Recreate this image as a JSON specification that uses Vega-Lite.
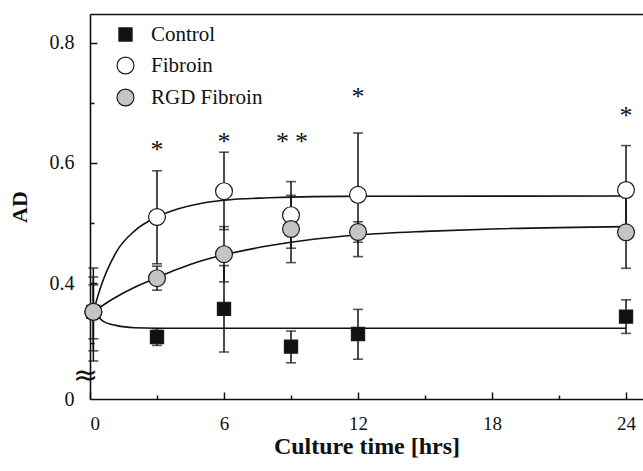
{
  "$schema": "https://vega.github.io/schema/vega-lite/v6.json",
  "width": 553,
  "height": 385,
  "padding": {"left": 90, "top": 14, "right": 0, "bottom": 72},
  "autosize": {"type": "none"},
  "background": "white",
  "config": {
    "view": {"stroke": null},
    "font": "Liberation Serif",
    "axis": {
      "grid": false,
      "domainColor": "#111",
      "domainWidth": 1.6,
      "tickColor": "#111",
      "tickWidth": 1.5,
      "labelFont": "Liberation Serif",
      "labelFontSize": 19,
      "labelColor": "#111",
      "titleFont": "Liberation Serif",
      "titleFontSize": 22,
      "titleFontWeight": "bold",
      "titleColor": "#111"
    },
    "legend": {"labelFont": "Liberation Serif"},
    "text": {"font": "Liberation Serif"}
  },
  "datasets": {
    "points": [
      {"series": "Control", "t": 0.15, "y": 0.352, "lo": 0.307, "hi": 0.397},
      {"series": "Control", "t": 3, "y": 0.31, "lo": 0.296, "hi": 0.324},
      {"series": "Control", "t": 6, "y": 0.357, "lo": 0.285, "hi": 0.429},
      {"series": "Control", "t": 9, "y": 0.294, "lo": 0.267, "hi": 0.32},
      {"series": "Control", "t": 12, "y": 0.315, "lo": 0.273, "hi": 0.356},
      {"series": "Control", "t": 24, "y": 0.344, "lo": 0.316, "hi": 0.372},
      {"series": "Fibroin", "t": 0.15, "y": 0.352, "lo": 0.27, "hi": 0.425},
      {"series": "Fibroin", "t": 3, "y": 0.51, "lo": 0.432, "hi": 0.587},
      {"series": "Fibroin", "t": 6, "y": 0.553, "lo": 0.489, "hi": 0.618},
      {"series": "Fibroin", "t": 9, "y": 0.513, "lo": 0.458, "hi": 0.569},
      {"series": "Fibroin", "t": 12, "y": 0.547, "lo": 0.444, "hi": 0.65},
      {"series": "Fibroin", "t": 24, "y": 0.555, "lo": 0.481, "hi": 0.629},
      {"series": "RGD Fibroin", "t": 0.15, "y": 0.352, "lo": 0.287, "hi": 0.41},
      {"series": "RGD Fibroin", "t": 3, "y": 0.408, "lo": 0.388, "hi": 0.428},
      {"series": "RGD Fibroin", "t": 6, "y": 0.448, "lo": 0.402, "hi": 0.494},
      {"series": "RGD Fibroin", "t": 9, "y": 0.49, "lo": 0.434, "hi": 0.546},
      {"series": "RGD Fibroin", "t": 12, "y": 0.485, "lo": 0.468, "hi": 0.502},
      {"series": "RGD Fibroin", "t": 24, "y": 0.4845, "lo": 0.4245, "hi": 0.5445}
    ],
    "curves": [
      {"series": "Control", "t": 0.15, "y": 0.352},
      {"series": "Control", "t": 0.6, "y": 0.336},
      {"series": "Control", "t": 1.2, "y": 0.329},
      {"series": "Control", "t": 2, "y": 0.3255},
      {"series": "Control", "t": 3, "y": 0.3247},
      {"series": "Control", "t": 6, "y": 0.3245},
      {"series": "Control", "t": 24, "y": 0.3245},
      {"series": "Fibroin", "t": 0.15, "y": 0.352},
      {"series": "Fibroin", "t": 0.45, "y": 0.39},
      {"series": "Fibroin", "t": 1.2, "y": 0.453},
      {"series": "Fibroin", "t": 2, "y": 0.487},
      {"series": "Fibroin", "t": 3, "y": 0.51},
      {"series": "Fibroin", "t": 4, "y": 0.524},
      {"series": "Fibroin", "t": 5, "y": 0.533},
      {"series": "Fibroin", "t": 6, "y": 0.538},
      {"series": "Fibroin", "t": 8, "y": 0.542},
      {"series": "Fibroin", "t": 10, "y": 0.544},
      {"series": "Fibroin", "t": 12, "y": 0.5445},
      {"series": "Fibroin", "t": 24, "y": 0.545},
      {"series": "RGD Fibroin", "t": 0.15, "y": 0.352},
      {"series": "RGD Fibroin", "t": 1, "y": 0.373},
      {"series": "RGD Fibroin", "t": 2, "y": 0.393},
      {"series": "RGD Fibroin", "t": 3, "y": 0.409},
      {"series": "RGD Fibroin", "t": 4, "y": 0.424},
      {"series": "RGD Fibroin", "t": 5, "y": 0.437},
      {"series": "RGD Fibroin", "t": 6, "y": 0.447},
      {"series": "RGD Fibroin", "t": 8, "y": 0.462},
      {"series": "RGD Fibroin", "t": 10, "y": 0.473},
      {"series": "RGD Fibroin", "t": 12, "y": 0.48},
      {"series": "RGD Fibroin", "t": 15, "y": 0.486},
      {"series": "RGD Fibroin", "t": 18, "y": 0.49},
      {"series": "RGD Fibroin", "t": 24, "y": 0.494}
    ],
    "stars": [
      {"t": 3, "y": 0.63, "label": "*"},
      {"t": 6, "y": 0.644, "label": "*"},
      {"t": 8.62, "y": 0.644, "label": "*"},
      {"t": 9.47, "y": 0.644, "label": "*"},
      {"t": 12, "y": 0.718, "label": "*"},
      {"t": 24, "y": 0.686, "label": "*"}
    ],
    "brk": [
      {"t": -0.2, "y": 0.2455, "label": "≈"}
    ]
  },
  "layer": [
    {
      "data": {"name": "curves"},
      "mark": {"type": "line", "color": "#111", "strokeWidth": 1.6, "interpolate": "monotone"},
      "encoding": {
        "x": {
          "field": "t", "type": "quantitative",
          "scale": {"domain": [0, 24.76], "nice": false, "zero": false},
          "axis": {"orient": "bottom", "values": [0, 6, 12, 18, 24], "ticks": false, "labelFont": "Liberation Serif", "labelPadding": 15, "title": "Culture time [hrs]", "titleFontSize": 24, "titlePadding": 1}
        },
        "y": {
          "field": "y", "type": "quantitative",
          "scale": {"domain": [0.2067, 0.8483], "nice": false, "zero": false},
          "axis": {"orient": "left", "values": [0.2067, 0.4, 0.6, 0.8], "labelExpr": "datum.value < 0.3 ? '0' : format(datum.value, '.1f')", "ticks": false, "labelFont": "Liberation Serif", "labelFontSize": 20, "labelPadding": 16, "title": "AD", "titlePadding": 18}
        },
        "detail": {"field": "series"}
      }
    },
    {
      "data": {"name": "curves"},
      "mark": {"type": "line", "opacity": 0},
      "encoding": {
        "x": {"field": "t", "type": "quantitative", "axis": {"orient": "bottom", "values": [0, 6, 12, 18, 24], "tickSize": -7, "labels": false, "domain": false, "title": null}},
        "y": {"field": "y", "type": "quantitative", "axis": {"orient": "left", "values": [0.4, 0.6, 0.8], "tickSize": -7, "labels": false, "domain": false, "title": null}},
        "detail": {"field": "series"}
      }
    },
    {
      "data": {"name": "curves"},
      "mark": {"type": "line", "opacity": 0},
      "encoding": {
        "x": {"field": "t", "type": "quantitative", "axis": {"orient": "bottom", "values": [3, 9, 15, 21], "tickSize": -4, "labels": false, "domain": false, "title": null}},
        "y": {"field": "y", "type": "quantitative", "axis": {"orient": "left", "values": [0.3, 0.5, 0.7], "tickSize": -4, "labels": false, "domain": false, "title": null}},
        "detail": {"field": "series"}
      }
    },
    {
      "data": {"name": "curves"},
      "mark": {"type": "line", "opacity": 0},
      "encoding": {
        "x": {"field": "t", "type": "quantitative", "axis": {"orient": "top", "ticks": false, "labels": false, "domain": true, "title": null}},
        "y": {"field": "y", "type": "quantitative", "axis": null},
        "detail": {"field": "series"}
      }
    },
    {
      "data": {"name": "points"},
      "mark": {"type": "rule", "color": "#111", "strokeWidth": 1.5},
      "encoding": {
        "x": {"field": "t", "type": "quantitative", "axis": null},
        "y": {"field": "lo", "type": "quantitative", "axis": null},
        "y2": {"field": "hi"}
      }
    },
    {
      "data": {"name": "points"},
      "mark": {"type": "tick", "orient": "horizontal", "color": "#111", "size": 10, "thickness": 1.6},
      "encoding": {
        "x": {"field": "t", "type": "quantitative", "axis": null},
        "y": {"field": "lo", "type": "quantitative", "axis": null}
      }
    },
    {
      "data": {"name": "points"},
      "mark": {"type": "tick", "orient": "horizontal", "color": "#111", "size": 10, "thickness": 1.6},
      "encoding": {
        "x": {"field": "t", "type": "quantitative", "axis": null},
        "y": {"field": "hi", "type": "quantitative", "axis": null}
      }
    },
    {
      "data": {"name": "points"},
      "mark": {"type": "point", "filled": true, "size": 285, "stroke": "#1a1a1a", "strokeWidth": 1.2, "opacity": 1},
      "encoding": {
        "x": {"field": "t", "type": "quantitative", "axis": null},
        "y": {"field": "y", "type": "quantitative", "axis": null},
        "shape": {
          "field": "series", "type": "nominal",
          "scale": {"domain": ["Control", "Fibroin", "RGD Fibroin"], "range": ["M-0.78,-0.78H0.78V0.78H-0.78Z", "circle", "circle"]},
          "legend": {
            "title": null, "orient": "none", "legendX": 25, "legendY": 10,
            "padding": 0, "symbolSize": 285, "symbolStrokeColor": "#1a1a1a", "symbolStrokeWidth": 1.2,
            "labelFont": "Liberation Serif", "labelFontSize": 21, "labelColor": "#111", "labelOffset": 15, "rowPadding": 9,
            "symbolOpacity": 1,
            "encode": {"symbols": {"update": {"stroke": {"value": "#1a1a1a"}, "strokeWidth": {"value": 1.2}}}, "labels": {"update": {"font": {"value": "Liberation Serif"}}}}
          }
        },
        "fill": {
          "field": "series", "type": "nominal",
          "scale": {"domain": ["Control", "Fibroin", "RGD Fibroin"], "range": ["#111111", "#ffffff", "#c4c4c4"]},
          "legend": {
            "title": null, "orient": "none", "legendX": 25, "legendY": 10,
            "padding": 0, "symbolSize": 285, "symbolStrokeColor": "#1a1a1a", "symbolStrokeWidth": 1.2,
            "labelFont": "Liberation Serif", "labelFontSize": 21, "labelColor": "#111", "labelOffset": 15, "rowPadding": 9,
            "symbolOpacity": 1,
            "encode": {"symbols": {"update": {"stroke": {"value": "#1a1a1a"}, "strokeWidth": {"value": 1.2}}}, "labels": {"update": {"font": {"value": "Liberation Serif"}}}}
          }
        }
      }
    },
    {
      "data": {"name": "stars"},
      "mark": {"type": "text", "font": "Liberation Serif", "fontSize": 26, "color": "#111", "baseline": "alphabetic", "dy": 13},
      "encoding": {
        "x": {"field": "t", "type": "quantitative", "axis": null},
        "y": {"field": "y", "type": "quantitative", "axis": null},
        "text": {"field": "label"}
      }
    },
    {
      "data": {"name": "brk"},
      "mark": {"type": "text", "font": "DejaVu Sans", "fontSize": 30, "color": "#111", "baseline": "middle", "clip": false},
      "encoding": {
        "x": {"field": "t", "type": "quantitative", "axis": null},
        "y": {"field": "y", "type": "quantitative", "axis": null},
        "text": {"field": "label"}
      }
    }
  ],
  "resolve": {"axis": {"x": "independent", "y": "independent"}}
}
